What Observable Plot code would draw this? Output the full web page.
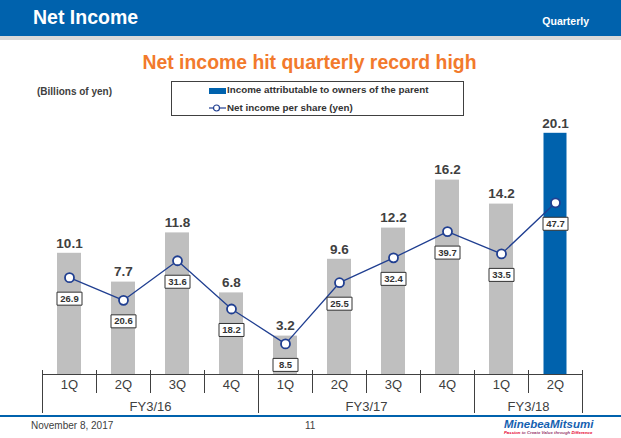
<!DOCTYPE html>
<html>
<head>
<meta charset="utf-8">
<script src="https://cdn.jsdelivr.net/npm/d3@7"></script>
<script src="https://cdn.jsdelivr.net/npm/@observablehq/plot@0.6"></script>
<style>
  html, body { margin: 0; padding: 0; background: #fff; }
  #page { position: relative; width: 621px; height: 438px; overflow: hidden; font-family: "Liberation Sans", Arial, sans-serif; color: #404040; }
  #page > * { position: absolute; }
  .hdr { left: 0; top: 0; width: 621px; height: 36px; background: #0062ad; }
  .strip { left: 0; top: 36px; width: 621px; height: 4px; background: #d9d9d9; }
  .t { white-space: nowrap; line-height: 1; }
  #chart { left: 0; top: 0; }
</style>
</head>
<body>
<div id="page">
  <div class="hdr"></div>
  <div class="strip"></div>
  <div class="t" style="left:33px; top:8px; font-size:19.5px; font-weight:bold; color:#fff;">Net Income</div>
  <div class="t" style="right:32px; top:16px; font-size:10.5px; font-weight:bold; color:#fff;">Quarterly</div>
  <div class="t" style="left:0; width:619px; text-align:center; top:53px; font-size:19.4px; font-weight:bold; color:#f27a2c;">Net income hit quarterly record high</div>
  <div class="t" style="left:37px; top:87px; font-size:10px; font-weight:bold;">(Billions of yen)</div>
  <div style="left:171px; top:81px; width:293px; height:35px; box-sizing:border-box; border:1px solid #404040;"></div>
  <div style="left:209px; top:88px; width:17px; height:5.5px; background:#0062ad;"></div>
  <div class="t" style="left:227px; top:85px; font-size:9.8px; font-weight:bold; color:#333;">Income attributable to owners of the parent</div>
  <svg style="left:208px; top:103px;" width="19" height="10"><line x1="1" y1="5" x2="18" y2="5" stroke="#203f91" stroke-width="1.2"/><circle cx="8.5" cy="5" r="3" fill="#fff" stroke="#203f91" stroke-width="1.2"/></svg>
  <div class="t" style="left:227px; top:103px; font-size:9.8px; font-weight:bold; color:#333;">Net income per share (yen)</div>
  <div id="chart"></div>
  <div style="left:0; top:415px; width:621px; height:2px; background:#0062ad;"></div>
  <div class="t" style="left:31px; top:421px; font-size:10px;">November 8, 2017</div>
  <div class="t" style="left:305px; top:421px; font-size:10px;">11</div>
  <div class="t" style="left:504px; top:419px; font-size:11.5px; font-weight:bold; font-style:italic; color:#1560b0;">MinebeaMitsumi</div>
  <div class="t" style="left:504px; top:431px; font-size:4.3px; font-weight:bold; font-style:italic; color:#9a4070;"><span style="color:#e6002d">Passion</span> to Create Value through <span style="color:#e6002d">Difference</span></div>
</div>
<script>
// ---- data ----
const quarters = ["1Q", "2Q", "3Q", "4Q", "1Q", "2Q", "3Q", "4Q", "1Q", "2Q"];
const fiscalYears = ["FY3/16", "FY3/17", "FY3/18"];
const quartersPerYear = [4, 4, 2];
const netIncome = [10.1, 7.7, 11.8, 6.8, 3.2, 9.6, 12.2, 16.2, 14.2, 20.1];
const epsYen = [26.9, 20.6, 31.6, 18.2, 8.5, 25.5, 32.4, 39.7, 33.5, 47.7];

// ---- build tables ----
const rows = quarters.map((q, i) => ({i, q, ni: netIncome[i], eps: epsYen[i], latest: i === quarters.length - 1}));
let start = 0;
const years = fiscalYears.map((fy, k) => { const r = {fy, start, n: quartersPerYear[k]}; start += quartersPerYear[k]; return r; });
const quarterBounds = d3.range(0, quarters.length + 1);
const yearBounds = [0, ...years.map(y => y.start + y.n)];

const epsScale = 0.3; // secondary axis (yen) mapped onto the billions-of-yen axis
const gray = "#bfbfbf", blue = "#0062ad", navy = "#203f91", ink = "#404040";
const boxSymbol = { draw(ctx) { ctx.rect(-12.5, -6.5, 25, 13); } };

const chart = Plot.plot({
  width: 621,
  height: 438,
  marginLeft: 42,
  marginRight: 39,
  marginTop: 110,
  marginBottom: 64,
  style: {fontFamily: "'Liberation Sans', Arial, sans-serif", background: "transparent", color: ink},
  x: {domain: [0, quarters.length], axis: null},
  y: {domain: [0, 22], axis: null},
  marks: [
    Plot.rectY(rows, {filter: d => !d.latest, x1: d => d.i, x2: d => d.i + 1, y: "ni", insetLeft: 15, insetRight: 15, fill: gray}),
    Plot.rectY(rows, {filter: d => d.latest, x1: d => d.i, x2: d => d.i + 1, y: "ni", insetLeft: 15.5, insetRight: 15.5, fill: blue}),
    Plot.ruleY([0], {stroke: ink, strokeWidth: 1}),
    Plot.ruleX(quarterBounds, {x: d => d, y1: 0, y2: 0, insetTop: -4, insetBottom: -19, stroke: ink, strokeWidth: 1}),
    Plot.ruleX(yearBounds, {x: d => d, y1: 0, y2: 0, insetTop: -4, insetBottom: -39, stroke: ink, strokeWidth: 1}),
    Plot.text(rows, {x: d => d.i + 0.5, y: 0, dy: 10, text: "q", fontSize: 13, fill: ink}),
    Plot.text(years, {x: d => d.start + d.n / 2, y: 0, dy: 32, text: "fy", fontSize: 13, fill: ink}),
    Plot.text(rows, {x: d => d.i + 0.5, y: "ni", dy: -10, text: d => d.ni.toFixed(1), fontSize: 13.5, fontWeight: "bold", fill: ink}),
    Plot.line(rows, {x: d => d.i + 0.5, y: d => d.eps * epsScale, stroke: navy, strokeWidth: 1.3}),
    Plot.dot(rows, {x: d => d.i + 0.5, y: d => d.eps * epsScale, r: 4.5, fill: "#fff", stroke: navy, strokeWidth: 1.8}),
    Plot.dot(rows, {x: d => d.i + 0.5, y: d => d.eps * epsScale, dy: 21, symbol: boxSymbol, fill: "#fff", stroke: "#333", strokeWidth: 1}),
    Plot.text(rows, {x: d => d.i + 0.5, y: d => d.eps * epsScale, dy: 21, text: d => d.eps.toFixed(1), fontSize: 9.5, fontWeight: "bold", fill: "#333"})
  ]
});
document.getElementById("chart").appendChild(chart);
</script>
</body>
</html>
